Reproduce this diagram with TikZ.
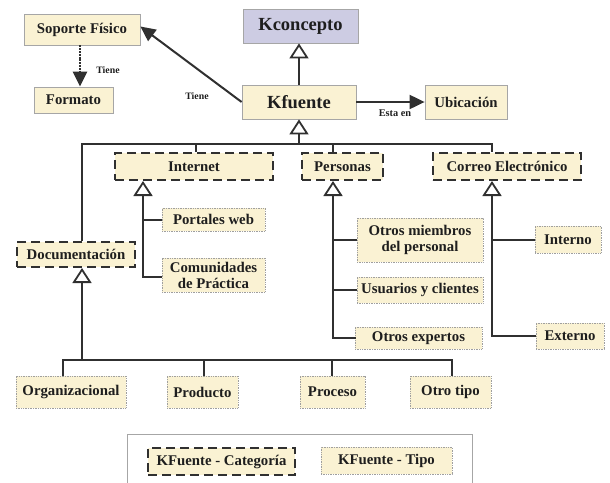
\documentclass[tikz,border=0pt]{standalone}
\usepackage{fontspec}
\setmainfont{Liberation Serif}
\usetikzlibrary{arrows.meta}
\definecolor{boxfill}{HTML}{FAF2D3}
\definecolor{kfill}{HTML}{CDCCE3}
\definecolor{lin}{HTML}{303030}
\definecolor{txt}{HTML}{1E1E1E}
\begin{document}
\begin{tikzpicture}[x=1pt,y=-1pt,
  base/.style={fill=boxfill,inner sep=0pt,align=center,text=txt,font=\fontsize{14.8}{16}\selectfont\bfseries},
  mainbox/.style={base,draw=gray!70,line width=0.8pt},
  tipobox/.style={base,draw=gray!75,line width=0.7pt,densely dotted},
  catbox/.style={base,draw=lin,line width=2pt,dash pattern=on 9pt off 5pt},
  conn/.style={draw=lin,line width=2pt},
  inh/.style={conn,-{Triangle[open,width=19pt,length=15pt,line width=1.8pt]}},
  assoc/.style={conn,-{Triangle[width=14pt,length=15pt]}},
  lab/.style={text=txt,font=\fontsize{9.8}{10}\selectfont\bfseries,inner sep=0pt}]
\useasboundingbox (0,0) rectangle (610,482);
% main boxes
\node[mainbox,fill=kfill,minimum width=115pt,minimum height=34pt,font=\fontsize{18.5}{19}\selectfont\bfseries] (kconcepto) at (300.5,26) {Kconcepto};
\node[mainbox,minimum width=114pt,minimum height=34pt,font=\fontsize{18.5}{19}\selectfont\bfseries] (kfuente) at (299,102) {Kfuente};
\node[mainbox,minimum width=116pt,minimum height=31pt] (soporte) at (82,29.5) {Soporte Físico};
\node[mainbox,minimum width=79pt,minimum height=26pt] (formato) at (73.5,100) {Formato};
\node[mainbox,minimum width=82pt,minimum height=34pt] (ubicacion) at (466,102) {Ubicación};
% categories
\node[catbox,minimum width=158pt,minimum height=27pt] (internet) at (194,166.5) {Internet};
\node[catbox,minimum width=81pt,minimum height=27pt] (personas) at (342.5,166.5) {Personas};
\node[catbox,minimum width=148pt,minimum height=27pt] (correo) at (507,166.5) {Correo Electrónico};
\node[catbox,minimum width=118pt,minimum height=25pt] (documentacion) at (76,254.5) {Documentación};
% types
\node[tipobox,minimum width=103pt,minimum height=23pt] (portales) at (213.5,219.5) {Portales web};
\node[tipobox,minimum width=103pt,minimum height=34pt,font=\fontsize{14.8}{16}\selectfont\bfseries] (comunidades) at (213.5,275) {Comunidades\\de Práctica};
\node[tipobox,minimum width=126pt,minimum height=44pt,font=\fontsize{14.8}{16}\selectfont\bfseries] (otrosmiembros) at (420,240) {Otros miembros\\del personal};
\node[tipobox,minimum width=126pt,minimum height=26pt] (usuarios) at (420,290) {Usuarios y clientes};
\node[tipobox,minimum width=127pt,minimum height=22pt] (otrosexp) at (418.5,338) {Otros expertos};
\node[tipobox,minimum width=66pt,minimum height=27pt] (interno) at (568,239.5) {Interno};
\node[tipobox,minimum width=68pt,minimum height=26pt] (externo) at (570,336) {Externo};
\node[tipobox,minimum width=110pt,minimum height=32pt] (organizacional) at (71,392) {Organizacional};
\node[tipobox,minimum width=71pt,minimum height=32pt] (producto) at (202.5,392) {Producto};
\node[tipobox,minimum width=65pt,minimum height=32pt] (proceso) at (332.5,392) {Proceso};
\node[tipobox,minimum width=81pt,minimum height=32pt] (otrotipo) at (450.5,392) {Otro tipo};
% legend
\coordinate (lgbl) at (127,490);
\coordinate (lgtl) at (127,434);
\coordinate (lgtr) at (472,434);
\coordinate (lgbr) at (472,490);
\draw[gray!70,line width=0.9pt] (lgbl) -- (lgtl) -- (lgtr) -- (lgbr);
\node[catbox,minimum width=147pt,minimum height=27pt] (lgcat) at (221.5,461.5) {KFuente - Categoría};
\node[tipobox,minimum width=131pt,minimum height=27pt] (lgtipo) at (386.5,460.5) {KFuente - Tipo};
% top connectors
\draw[inh] (kfuente.north) -- (kfuente.north |- kconcepto.south);
\draw[assoc] (kfuente.west) -- ([yshift=3pt]soporte.east);
\node[lab] (t1) at (197,96) {Tiene};
\draw[assoc,line width=2.4pt,dash pattern=on 2pt off 0.8pt] ([xshift=-2pt]soporte.south) -- ([xshift=-2pt]soporte.south |- formato.north);
\node[lab] (t2) at (108,70) {Tiene};
\draw[assoc] (kfuente.east) -- (ubicacion.west);
\node[lab,font=\fontsize{10.3}{10}\selectfont\bfseries] (t3) at (395,113) {Esta en};
% bus under Kfuente
\coordinate (bus) at (299,144);
\draw[inh] (bus) -- (kfuente.south);
\draw[conn] ([xshift=6pt]documentacion.north) |- (bus) -| ([xshift=-15pt]correo.north);
\draw[conn] ([xshift=2pt]internet.north) -- ([xshift=2pt]internet.north |- bus);
\draw[conn] ([xshift=-9.5pt]personas.north) -- ([xshift=-9.5pt]personas.north |- bus);
% internet children
\coordinate (iv) at ([xshift=-51pt]internet.south);
\draw[inh] ([yshift=-2pt]comunidades.west) -| (iv);
\draw[conn] (portales.west) -- (portales.west -| iv);
% personas children
\coordinate (pv) at ([xshift=-9.5pt]personas.south);
\draw[inh] ([xshift=1pt]otrosexp.west) -| (pv);
\draw[conn] (otrosmiembros.west) -- (otrosmiembros.west -| pv);
\draw[conn] (usuarios.west) -- (usuarios.west -| pv);
% correo children
\coordinate (cv) at ([xshift=-15pt]correo.south);
\draw[inh] (externo.west) -| (cv);
\draw[conn] (interno.west) -- (interno.west -| cv);
% documentacion children
\coordinate (db) at (82,360);
\draw[inh] (db) -- ([xshift=6pt]documentacion.south);
\draw[conn] ([xshift=-8pt]organizacional.north) |- (db) -| ([xshift=1.5pt]otrotipo.north);
\draw[conn] ([xshift=1.5pt]producto.north) -- ([xshift=1.5pt]producto.north |- db);
\draw[conn] ([xshift=-0.5pt]proceso.north) -- ([xshift=-0.5pt]proceso.north |- db);
\end{tikzpicture}
\end{document}
